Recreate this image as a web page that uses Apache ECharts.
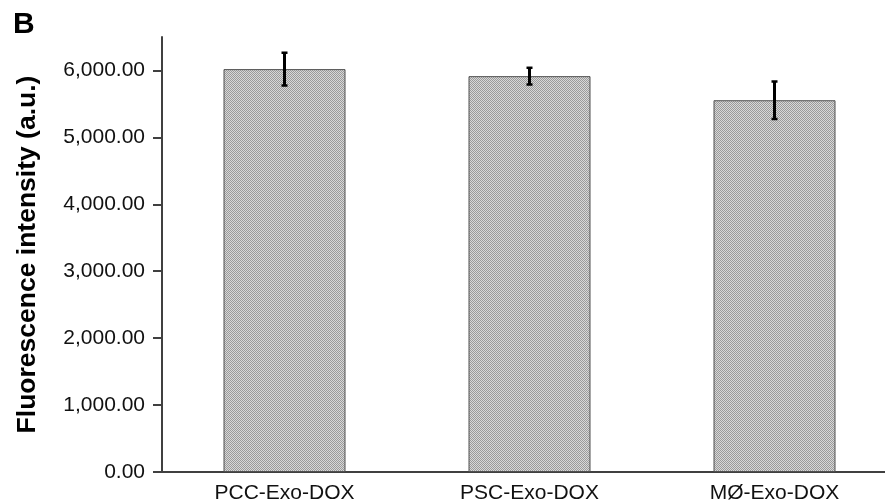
<!DOCTYPE html>
<html>
<head>
<meta charset="utf-8">
<script src="https://cdn.jsdelivr.net/npm/echarts@6/dist/echarts.min.js"></script>
<style>
  html, body { margin: 0; padding: 0; background: #fff; }
  #chart { width: 885px; height: 501px; }
</style>
</head>
<body>
<div id="chart"></div>
<script>
// Group names and measured fluorescence (mean ± error)
const categories = ['PCC-Exo-DOX', 'PSC-Exo-DOX', 'MØ-Exo-DOX'];
const means = [6020, 5915, 5555];
const errors = [245, 125, 280];
const yTicks = [0, 1000, 2000, 3000, 4000, 5000, 6000];

// Fine grey checker fill for the bars
function checkerPattern() {
  const c = document.createElement('canvas');
  c.width = 2; c.height = 2;
  const g = c.getContext('2d');
  g.fillStyle = '#d8d8d8'; g.fillRect(0, 0, 2, 2);
  g.fillStyle = '#9a9a9a'; g.fillRect(0, 0, 1, 1); g.fillRect(1, 1, 1, 1);
  return c;
}

const errData = means.map((m, i) => [i, m - errors[i], m + errors[i]]);
const fmt = v => Number(v).toLocaleString('en-US', { minimumFractionDigits: 2, maximumFractionDigits: 2 });
const axisColor = '#404040';
const font = '"Liberation Sans", Arial, sans-serif';

const chart = echarts.init(document.getElementById('chart'), null, { renderer: 'canvas' });
chart.setOption({
  animation: false,
  backgroundColor: '#ffffff',
  graphic: [{
    type: 'text', left: 13, top: 10,
    style: { text: 'B', font: 'bold 30px ' + font, fill: '#000' }
  }],
  grid: { left: 162, top: 37, width: 735, bottom: 29, containLabel: false, outerBoundsMode: 'none' },
  xAxis: {
    type: 'category',
    data: categories,
    axisLine: { lineStyle: { color: axisColor, width: 2 } },
    axisTick: { show: false },
    axisLabel: { color: '#111', fontSize: 21, fontFamily: font, margin: 11 },
    splitLine: { show: false }
  },
  yAxis: {
    type: 'value',
    min: 0, max: 6500, interval: 1000,
    name: 'Fluorescence intensity (a.u.)',
    nameLocation: 'middle',
    nameGap: 121,
    nameTextStyle: { color: '#000', fontSize: 26.5, fontWeight: 'bold', fontFamily: font },
    axisLine: { show: true, lineStyle: { color: axisColor, width: 2 } },
    axisTick: { show: true, length: 9, lineStyle: { color: axisColor, width: 2 }, customValues: yTicks },
    axisLabel: { color: '#111', fontSize: 21, fontFamily: font, margin: 17, formatter: fmt, customValues: yTicks },
    splitLine: { show: false }
  },
  series: [
    {
      type: 'bar',
      data: means,
      barWidth: 122,
      itemStyle: {
        color: { image: checkerPattern(), repeat: 'repeat' },
        borderColor: '#505050',
        borderWidth: 1
      }
    },
    {
      type: 'custom',
      data: errData,
      z: 10,
      renderItem: function (params, api) {
        const idx = api.value(0);
        const lo = api.coord([idx, api.value(1)]);
        const hi = api.coord([idx, api.value(2)]);
        const hw = 3;
        const cap = { stroke: '#000', lineWidth: 2.5 };
        return {
          type: 'group',
          children: [
            { type: 'line', shape: { x1: hi[0], y1: hi[1], x2: lo[0], y2: lo[1] }, style: { stroke: '#000', lineWidth: 3 } },
            { type: 'line', shape: { x1: hi[0] - hw, y1: hi[1], x2: hi[0] + hw, y2: hi[1] }, style: cap },
            { type: 'line', shape: { x1: lo[0] - hw, y1: lo[1], x2: lo[0] + hw, y2: lo[1] }, style: cap }
          ]
        };
      }
    }
  ]
});
</script>
</body>
</html>
